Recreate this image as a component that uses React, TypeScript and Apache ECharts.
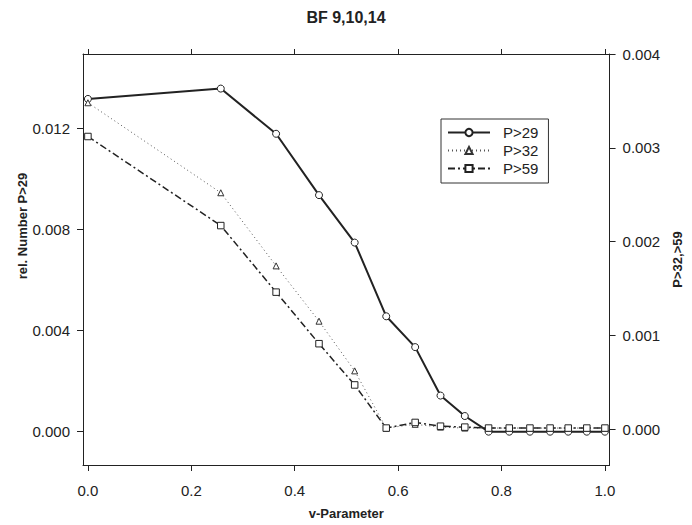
import React, { useEffect, useRef } from "react";
import * as echarts from "echarts";

const xValues = [0, 0.257, 0.364, 0.447, 0.516, 0.577, 0.633, 0.682, 0.729, 0.775, 0.815, 0.855, 0.894, 0.929, 0.965, 1.0];
const p29 = [0.01318, 0.01359, 0.0118, 0.00937, 0.00749, 0.00457, 0.00335, 0.00143, 0.00062, 0, 0, 0, 0, 0, 0, 0];
const p32 = [0.00348, 0.00252, 0.00174, 0.00115, 0.00062, 0.00001, 0.00005, 0.00002, 0.00001, 0.00001, 0.00001, 0.00001, 0.00001, 0.00001, 0.00001, 0.00001];
const p59 = [0.00312, 0.00217, 0.00146, 0.00091, 0.00047, 0.00001, 0.00007, 0.00003, 0.00002, 0.00001, 0.00001, 0.00001, 0.00001, 0.00001, 0.00001, 0.00001];
const xTicks = [0, 0.2, 0.4, 0.6, 0.8, 1.0];
const leftTicks = [0, 0.004, 0.008, 0.012];
const rightTicks = [0, 0.001, 0.002, 0.003, 0.004];
const seriesNames = ["P>29", "P>32", "P>59"];
const leftTitle = "rel. Number P>29";

const FONT = "Liberation Sans, Arial, Helvetica, sans-serif";
const INK = "#222";

export default function App() {
  const ref = useRef<HTMLDivElement>(null);
  useEffect(() => {
    document.body.style.margin = "0";
    const chart = echarts.init(ref.current!, null, { renderer: "svg" });
    const pairs = (ys: number[]) => xValues.map((x, i) => [x, ys[i]]);
    chart.setOption({
      animation: false,
      backgroundColor: "#fff",
      textStyle: { fontFamily: FONT, color: INK },
      title: {
        text: "BF 9,10,14",
        left: "center",
        top: 4,
        textStyle: { fontFamily: FONT, fontSize: 16, fontWeight: "bold", color: INK },
      },
      graphic: [
        {
          type: "text",
          x: 22,
          y: 226,
          rotation: Math.PI / 2,
          style: {
            text: leftTitle,
            font: "bold 13px " + FONT,
            fill: INK,
            textAlign: "center",
            textVerticalAlign: "middle",
          },
        },
      ],
      legend: {
        data: seriesNames,
        orient: "vertical",
        left: 441,
        top: 119,
        width: 107,
        borderColor: "#333",
        borderWidth: 1,
        borderRadius: 0,
        padding: [6, 10, 7, 6],
        itemWidth: 42,
        itemHeight: 9,
        itemGap: 3,
        textStyle: { fontFamily: FONT, fontSize: 15, color: INK, padding: [0, 0, 0, 8] },
      },
      grid: { left: 83, right: 70, top: 54, bottom: 60 },
      xAxis: [
        {
          type: "value",
          position: "bottom",
          min: -0.0095,
          max: 1.009,
          name: "v-Parameter",
          nameLocation: "middle",
          nameGap: 42,
          nameTextStyle: { fontFamily: FONT, fontSize: 13, fontWeight: "bold", color: INK },
          axisLine: { show: true, onZero: false, lineStyle: { color: INK, width: 1 } },
          axisTick: { show: true, length: 6, customValues: xTicks, lineStyle: { color: INK } },
          axisLabel: {
            customValues: xTicks,
            margin: 18,
            fontFamily: FONT,
            fontSize: 15,
            color: INK,
            formatter: (v: number) => v.toFixed(1),
          },
          splitLine: { show: false },
        },
        {
          type: "value",
          position: "top",
          min: -0.0095,
          max: 1.009,
          axisLine: { show: true, onZero: false, lineStyle: { color: INK, width: 1 } },
          axisTick: { show: true, length: 5, customValues: xTicks, lineStyle: { color: INK } },
          axisLabel: { show: false },
          splitLine: { show: false },
        },
      ],
      yAxis: [
        {
          type: "value",
          position: "left",
          min: -0.00132,
          max: 0.01496,
          axisLine: { show: true, onZero: false, lineStyle: { color: INK, width: 1 } },
          axisTick: { show: true, length: 6, customValues: leftTicks, lineStyle: { color: INK } },
          axisLabel: {
            customValues: leftTicks,
            margin: 13,
            fontFamily: FONT,
            fontSize: 15,
            color: INK,
            formatter: (v: number) => v.toFixed(3),
          },
          splitLine: { show: false },
        },
        {
          type: "value",
          position: "right",
          min: -0.000384,
          max: 0.004,
          name: "P>32,>59",
          nameLocation: "middle",
          nameRotate: 90,
          nameGap: 40,
          nameTextStyle: { fontFamily: FONT, fontSize: 13, fontWeight: "bold", color: INK },
          axisLine: { show: true, onZero: false, lineStyle: { color: INK, width: 1 } },
          axisTick: { show: true, length: 6, customValues: rightTicks, lineStyle: { color: INK } },
          axisLabel: {
            customValues: rightTicks,
            margin: 13,
            fontFamily: FONT,
            fontSize: 15,
            color: INK,
            formatter: (v: number) => v.toFixed(3),
          },
          splitLine: { show: false },
        },
      ],
      series: [
        {
          name: seriesNames[0],
          type: "line",
          xAxisIndex: 0,
          yAxisIndex: 0,
          data: pairs(p29),
          symbol: "circle",
          symbolSize: 7,
          lineStyle: { color: INK, width: 2 },
          itemStyle: { color: "#fff", borderColor: INK, borderWidth: 1 },
          z: 2,
        },
        {
          name: seriesNames[1],
          type: "line",
          xAxisIndex: 0,
          yAxisIndex: 1,
          data: pairs(p32),
          symbol: "triangle",
          symbolSize: 6,
          lineStyle: { color: "#555", width: 1, type: [1, 3] },
          itemStyle: { color: "#fff", borderColor: "#333", borderWidth: 1 },
          z: 3,
        },
        {
          name: seriesNames[2],
          type: "line",
          xAxisIndex: 0,
          yAxisIndex: 1,
          data: pairs(p59),
          symbol: "rect",
          symbolSize: 6.5,
          lineStyle: { color: INK, width: 1.5, type: [7, 3, 2, 3] },
          itemStyle: { color: "#fff", borderColor: INK, borderWidth: 1 },
          z: 4,
        },
      ],
    });
    return () => chart.dispose();
  }, []);
  return <div ref={ref} style={{ width: 692, height: 525 }} />;
}
